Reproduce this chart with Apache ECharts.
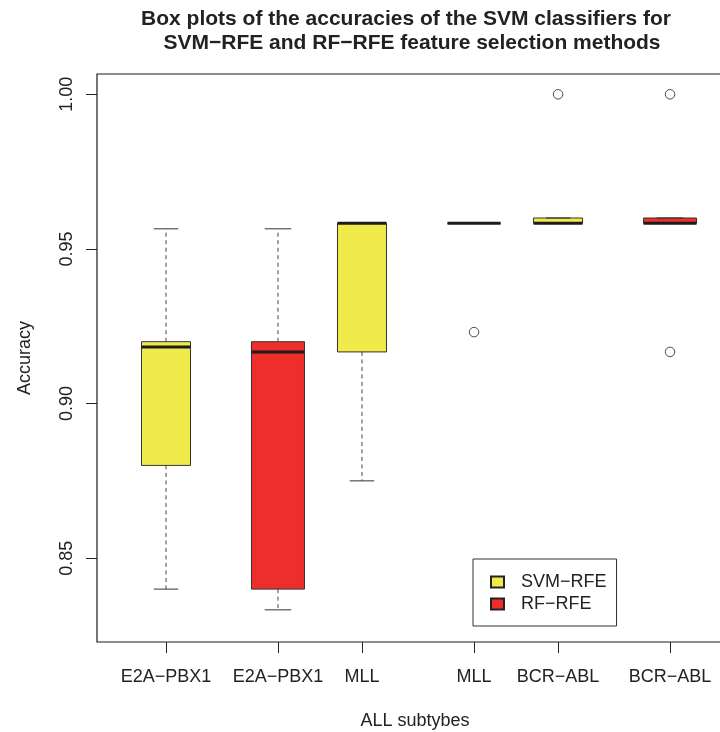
<!DOCTYPE html>
<html>
<head>
<meta charset="utf-8">
<script src="https://cdn.jsdelivr.net/npm/echarts@6/dist/echarts.min.js"></script>
<style>
  html, body { margin: 0; padding: 0; background: #fff; }
  #chart { width: 720px; height: 732px; }
</style>
</head>
<body>
<div id="chart"></div>
<script>
// Accuracy summaries of the SVM classifiers, one box per subtype and selection method
const subtypes      = ['E2A−PBX1', 'E2A−PBX1', 'MLL', 'MLL', 'BCR−ABL', 'BCR−ABL'];
const methods       = ['SVM−RFE', 'RF−RFE', 'SVM−RFE', 'RF−RFE', 'SVM−RFE', 'RF−RFE'];
const slots         = [1, 2.333, 3.333, 4.667, 5.667, 7];
const lowerWhisker  = [0.84,   0.8333, 0.875,  0.9583, 0.9583, 0.9583];
const lowerQuartile = [0.88,   0.84,   0.9167, 0.9583, 0.9583, 0.9583];
const medians       = [0.9183, 0.9167, 0.9583, 0.9583, 0.9583, 0.9583];
const upperQuartile = [0.92,   0.92,   0.9583, 0.9583, 0.96,   0.96];
const upperWhisker  = [0.9565, 0.9565, 0.9583, 0.9583, 0.96,   0.96];
const outliers      = [[], [], [], [0.9231], [1.0], [1.0, 0.9167]];
const yTicks        = [0.85, 0.90, 0.95, 1.00];
const legendNames   = ['SVM−RFE', 'RF−RFE'];

const FONT = "'Liberation Sans', Arial, Helvetica, sans-serif";
const INK = '#222';
const fills = { 'SVM−RFE': '#F0EB4B', 'RF−RFE': '#EE2E2B' };
const boxWidths = { 'SVM−RFE': 49, 'RF−RFE': 53 };

function labelFor(v) {
  let best = 0;
  slots.forEach((s, i) => { if (Math.abs(s - v) < Math.abs(slots[best] - v)) best = i; });
  return subtypes[best];
}

function boxRenderer(fill, boxW) {
  return function (params, api) {
    const pos = api.value(0);
    const x = api.coord([pos, api.value(3)])[0];
    const yOf = (i) => api.coord([pos, api.value(i)])[1];
    const yLo = yOf(1), yQ1 = yOf(2), yMed = yOf(3), yQ3 = yOf(4), yHi = yOf(5);
    const half = boxW / 2, staple = boxW / 4;
    const dashed = { stroke: '#444', lineWidth: 1, lineDash: [4, 3.5], fill: null };
    const solid = { stroke: '#333', lineWidth: 1, fill: null };
    return {
      type: 'group',
      children: [
        { type: 'rect', shape: { x: x - half, y: yQ3, width: boxW, height: Math.max(yQ1 - yQ3, 0) },
          style: { fill: fill, stroke: '#333', lineWidth: 1 } },
        { type: 'line', shape: { x1: x, y1: yQ3, x2: x, y2: yHi }, style: dashed },
        { type: 'line', shape: { x1: x, y1: yQ1, x2: x, y2: yLo }, style: dashed },
        { type: 'line', shape: { x1: x - staple, y1: yHi, x2: x + staple, y2: yHi }, style: solid },
        { type: 'line', shape: { x1: x - staple, y1: yLo, x2: x + staple, y2: yLo }, style: solid },
        { type: 'line', shape: { x1: x - half, y1: yMed, x2: x + half, y2: yMed },
          style: { stroke: '#1c1c1c', lineWidth: 3, fill: null } }
      ]
    };
  };
}

const boxSeries = legendNames.map((m) => ({
  name: m,
  type: 'custom',
  renderItem: boxRenderer(fills[m], boxWidths[m]),
  itemStyle: { color: fills[m], borderColor: '#222', borderWidth: 1 },
  encode: { x: 0, y: [1, 2, 3, 4, 5] },
  data: slots.map((s, i) => i).filter((i) => methods[i] === m)
    .map((i) => [slots[i], lowerWhisker[i], lowerQuartile[i], medians[i], upperQuartile[i], upperWhisker[i]]),
  silent: true,
  z: 2
}));

const outlierPoints = [];
outliers.forEach((vals, i) => vals.forEach((v) => outlierPoints.push([slots[i], v])));

const option = {
  animation: false,
  backgroundColor: '#fff',
  title: [
    { text: 'Box plots of the accuracies of the SVM classifiers for', left: 406, top: 9, textAlign: 'center', padding: 0,
      textStyle: { fontFamily: FONT, fontSize: 21, fontWeight: 'bold', color: INK } },
    { text: 'SVM−RFE and RF−RFE feature selection methods', left: 412, top: 33, textAlign: 'center', padding: 0,
      textStyle: { fontFamily: FONT, fontSize: 21, fontWeight: 'bold', color: INK } }
  ],
  grid: { left: 97, top: 74, right: -19, bottom: 90, containLabel: false, outerBoundsMode: 'none',
    show: true, borderColor: '#1a1a1a', borderWidth: 1.2, backgroundColor: 'transparent' },
  legend: {
    data: legendNames,
    orient: 'vertical',
    left: 473, top: 559,
    padding: [14, 10, 13, 17],
    itemGap: 4,
    itemWidth: 13, itemHeight: 11,
    icon: 'rect',
    borderColor: '#333', borderWidth: 1,
    selectedMode: false,
    textStyle: { fontFamily: FONT, fontSize: 18, color: INK, padding: [0, 0, 0, 12], lineHeight: 18 }
  },
  xAxis: {
    type: 'value', min: 0.1786, max: 7.821,
    name: 'ALL subtybes', nameLocation: 'middle', nameGap: 70,
    nameTextStyle: { fontFamily: FONT, fontSize: 18, color: INK, padding: [0, 6, 0, 0] },
    axisLine: { show: false },
    splitLine: { show: false },
    axisTick: { show: true, length: 11, customValues: slots, lineStyle: { color: INK, width: 1 } },
    axisLabel: { customValues: slots, formatter: labelFor, margin: 26,
      fontFamily: FONT, fontSize: 18, color: INK }
  },
  yAxis: {
    type: 'value', min: 0.8229, max: 1.00656,
    name: 'Accuracy', nameLocation: 'middle', nameRotate: 90, nameGap: 63,
    nameTextStyle: { fontFamily: FONT, fontSize: 18, color: INK },
    axisLine: { show: false },
    splitLine: { show: false },
    axisTick: { show: true, length: 11, customValues: yTicks, lineStyle: { color: INK, width: 1 } },
    axisLabel: { customValues: yTicks, rotate: 90, margin: 21, formatter: (v) => v.toFixed(2),
      fontFamily: FONT, fontSize: 18, color: INK }
  },
  series: boxSeries.concat([{
    name: 'outliers',
    type: 'scatter',
    data: outlierPoints,
    symbol: 'circle',
    symbolSize: 9.5,
    itemStyle: { color: 'rgba(0,0,0,0)', borderColor: '#222', borderWidth: 1 },
    silent: true,
    z: 3
  }])
};

const chart = echarts.init(document.getElementById('chart'), null, { renderer: 'canvas' });
chart.setOption(option);
</script>
</body>
</html>
